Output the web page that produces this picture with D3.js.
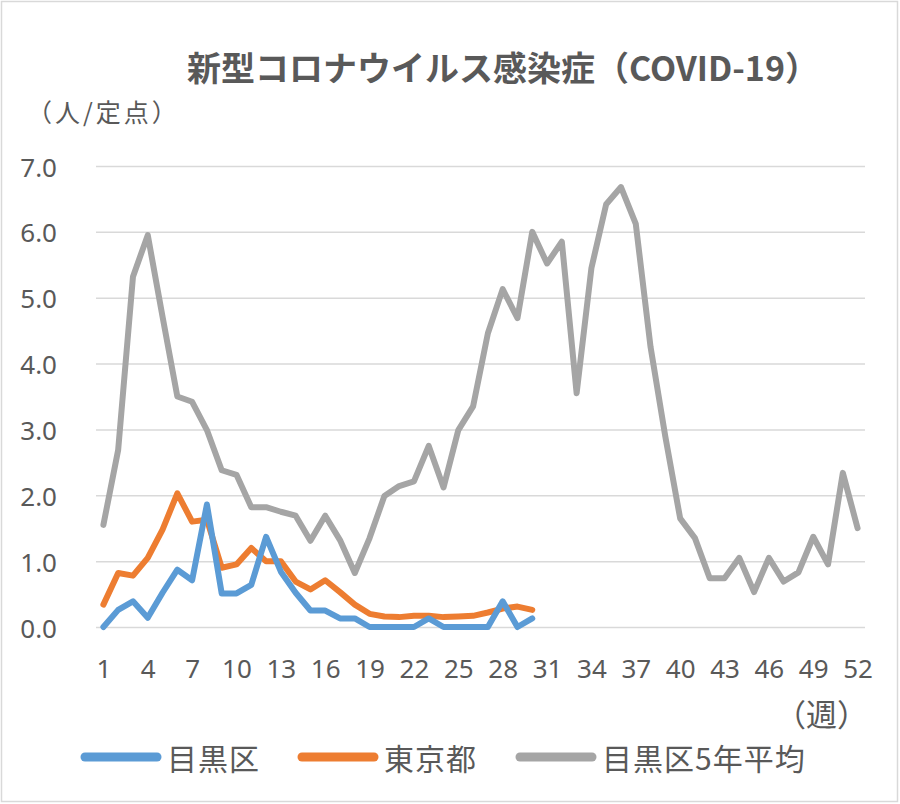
<!DOCTYPE html>
<html>
<head>
<meta charset="utf-8">
<script src="https://cdn.jsdelivr.net/npm/d3@7"></script>
<style>
  body { margin: 0; background: #fff; }
  text { font-family: "Noto Sans", "Noto Sans CJK JP", sans-serif; fill: #595959; }
</style>
</head>
<body>
<script>
// data, week by week
var weeks = d3.range(1, 53);
var weekTicks = [1, 4, 7, 10, 13, 16, 19, 22, 25, 28, 31, 34, 37, 40, 43, 46, 49, 52];
var yTicks = [0, 1, 2, 3, 4, 5, 6, 7];
var seriesNames = ["目黒区", "東京都", "目黒区5年平均"];
var seriesColors = ["#5B9BD5", "#ED7D31", "#A5A5A5"];

// meguro, this year (only up to week 30)
var meguro = [0, 0.26, 0.39, 0.14, 0.52, 0.87, 0.71, 1.86, 0.51, 0.51,
              0.64, 1.37, 0.84, 0.52, 0.25, 0.25, 0.13, 0.13, 0, 0,
              0, 0, 0.13, 0, 0, 0, 0, 0.39, 0, 0.13];
// tokyo, this year
var tokyo = [0.34, 0.82, 0.78, 1.05, 1.48, 2.03, 1.60, 1.63, 0.90, 0.95,
             1.20, 1.00, 1.00, 0.69, 0.57, 0.71, 0.53, 0.34, 0.20, 0.16,
             0.15, 0.17, 0.17, 0.15, 0.16, 0.17, 0.22, 0.28, 0.31, 0.26];
// meguro 5 year average, full year
var meguroAvg = [1.55, 2.69, 5.32, 5.95, 4.71, 3.50, 3.42, 2.99, 2.38, 2.31,
                 1.82, 1.82, 1.75, 1.69, 1.31, 1.69, 1.32, 0.82, 1.35, 1.99,
                 2.14, 2.21, 2.75, 2.12, 2.99, 3.35, 4.46, 5.13, 4.69, 6.00,
                 5.52, 5.85, 3.55, 5.45, 6.42, 6.68, 6.12, 4.25, 2.89, 1.65,
                 1.35, 0.74, 0.74, 1.05, 0.53, 1.05, 0.69, 0.83, 1.37, 0.95,
                 2.34, 1.50];

//sizes
var width = 900, height = 804;
var plotLeft = 96, plotRight = 865, plotTop = 166, plotBottom = 627;

var svg = d3.select("body").append("svg")
            .attr("width", width)
            .attr("height", height);

// outer frame of the chart
svg.append("rect")
   .attr("x", 1.5).attr("y", 1.5)
   .attr("width", width - 4).attr("height", height - 4)
   .attr("fill", "#fff")
   .attr("stroke", "#D9D9D9")
   .attr("stroke-width", 1.5);

//scales
var x = d3.scalePoint().domain(weeks).range([plotLeft, plotRight]).padding(0.5);
var y = d3.scaleLinear().domain([0, 7]).range([plotBottom, plotTop]);

// y axis with gridlines
var yAxis = svg.append("g")
               .attr("transform", "translate(" + plotLeft + ",0)")
               .call(d3.axisLeft(y).tickValues(yTicks).tickSize(-(plotRight - plotLeft)).tickPadding(39)
                       .tickFormat(d3.format(".1f")));
yAxis.select(".domain").remove();
yAxis.selectAll("line").attr("stroke", "#D9D9D9").attr("stroke-width", 1.5);
yAxis.selectAll("text")
     .attr("font-family", null)
     .attr("dy", null)
     .attr("dominant-baseline", "central")
     .style("font-size", "26px");

// x axis, every 3rd week
var xAxis = svg.append("g")
               .attr("transform", "translate(0," + plotBottom + ")")
               .call(d3.axisBottom(x).tickValues(weekTicks).tickSize(0));
xAxis.select(".domain").remove();
xAxis.selectAll("text")
     .attr("y", 41)
     .attr("dy", null)
     .attr("dominant-baseline", "central")
     .style("font-size", "26px");

//the lines, gray first so it sits behind
var line = d3.line()
             .x(function(d, i) { return x(weeks[i]); })
             .y(function(d) { return y(d); });

var allSeries = [meguro, tokyo, meguroAvg];
[2, 1, 0].forEach(function(k) {
  svg.append("path")
     .datum(allSeries[k])
     .attr("d", line)
     .attr("fill", "none")
     .attr("stroke", seriesColors[k])
     .attr("stroke-width", 6)
     .attr("stroke-linejoin", "round")
     .attr("stroke-linecap", "round");
});

// title
svg.append("text")
   .attr("x", 503)
   .attr("y", 66)
   .attr("text-anchor", "middle")
   .attr("dominant-baseline", "central")
   .style("font-family", "'Noto Sans CJK JP', sans-serif")
   .style("font-weight", "bold")
   .style("font-size", "34px")
   .text("新型コロナウイルス感染症（COVID-19）");

// unit labels
svg.append("text")
   .attr("x", 27)
   .attr("y", 111)
   .attr("dominant-baseline", "central")
   .style("font-family", "'Noto Sans CJK JP', sans-serif")
   .style("font-size", "25px")
   .style("letter-spacing", "3px")
   .text("（人/定点）");

svg.append("text")
   .attr("x", 868)
   .attr("y", 712)
   .attr("text-anchor", "end")
   .attr("dominant-baseline", "central")
   .style("font-family", "'Noto Sans CJK JP', sans-serif")
   .style("font-size", "31px")
   .text("（週）");

//legend
var legendX = [85, 302, 520];
var legend = svg.selectAll(".legend")
                .data(seriesNames)
                .enter()
                .append("g")
                .attr("class", "legend")
                .attr("transform", function(d, i) { return "translate(" + legendX[i] + ",757)"; });

legend.append("line")
      .attr("x1", 0).attr("x2", 72)
      .attr("y1", 0).attr("y2", 0)
      .attr("stroke", function(d, i) { return seriesColors[i]; })
      .attr("stroke-width", 9)
      .attr("stroke-linecap", "round");

legend.append("text")
      .attr("x", 82)
      .attr("y", 0)
      .attr("dominant-baseline", "central")
      .style("font-family", "'Noto Sans CJK JP', sans-serif")
      .style("font-size", "30px")
      .style("letter-spacing", "1px")
      .text(function(d) { return d; });
</script>
</body>
</html>
